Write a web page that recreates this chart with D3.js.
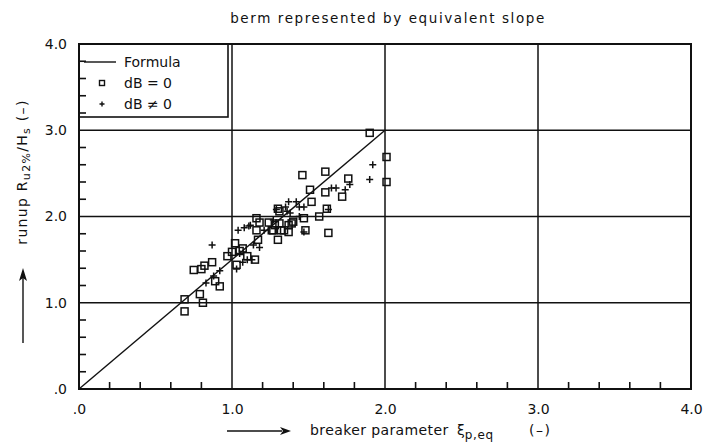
<!DOCTYPE html>
<html>
<head>
<meta charset="utf-8">
<script src="https://cdn.jsdelivr.net/npm/d3@7"></script>
<style>
  body { margin: 0; background: #fff; }
  text { font-family: "DejaVu Sans", sans-serif; fill: #111; }
</style>
</head>
<body>
<svg id="chart" width="704" height="442"></svg>
<script>
"use strict";

// Measured points dB = 0 (squares) : breaker parameter / runup
var sqXi = [0.69, 0.69, 0.79, 0.81, 0.75, 0.80, 0.82, 0.87, 0.89, 0.92,
            0.97, 1.02, 1.03, 1.00, 1.07, 1.10, 1.15, 1.17, 1.16, 1.18,
            1.24, 1.27, 1.30, 1.28, 1.46, 1.51, 1.31, 1.39, 1.37, 1.32,
            1.31, 1.48, 1.61, 1.76, 1.61, 1.72, 1.52, 1.62, 1.57, 1.63,
            1.47, 1.30, 1.90, 2.01, 2.01, 1.26, 1.16, 1.40, 1.37, 1.34, 1.05];
var sqRu = [1.04, 0.90, 1.10, 1.00, 1.38, 1.39, 1.43, 1.47, 1.25, 1.19,
            1.54, 1.69, 1.44, 1.59, 1.63, 1.54, 1.50, 1.73, 1.84, 1.93,
            1.93, 1.84, 1.73, 1.90, 2.48, 2.31, 1.92, 1.92, 1.82, 1.84,
            2.06, 1.84, 2.52, 2.44, 2.28, 2.23, 2.17, 2.09, 2.00, 1.81,
            1.98, 2.09, 2.97, 2.69, 2.40, 1.84, 1.98, 1.94, 1.90, 1.84, 1.60];

// Measured points dB != 0 (plus signs)
var plXi = [0.87, 0.83, 0.92, 0.88, 1.04, 1.08, 1.12, 1.03, 1.10, 1.13,
            1.14, 1.05, 1.37, 1.42, 1.44, 1.36, 1.29, 1.18, 1.65, 1.68,
            1.74, 1.77, 1.47, 1.11, 1.92, 1.90, 1.47, 1.27, 1.21, 1.44,
            1.35, 1.63, 1.07, 1.38];
var plRu = [1.67, 1.23, 1.37, 1.31, 1.84, 1.87, 1.90, 1.39, 1.50, 1.50,
            1.67, 1.57, 2.17, 2.17, 2.11, 2.06, 2.08, 1.64, 2.33, 2.33,
            2.31, 2.37, 2.11, 1.89, 2.60, 2.43, 1.82, 1.96, 1.84, 2.00,
            2.11, 2.08, 1.47, 2.04];

// Formula line Ru2%/Hs = 1.5 xi (up to xi = 2)
var formulaXi = [0.0, 2.0];
var formulaRu = [0.0, 3.0];

var majorTicks = [0, 1, 2, 3, 4];
var gridTicks = [1, 2, 3];
var minorTicks = [0.2, 0.4, 0.6, 0.8, 1.2, 1.4, 1.6, 1.8, 2.2, 2.4, 2.6, 2.8, 3.2, 3.4, 3.6, 3.8];

var svg = d3.select("#chart");
svg.append("rect").attr("width", 704).attr("height", 442).attr("fill", "#fff");

var x = d3.scaleLinear().domain([0, 4]).range([79, 691]);
var y = d3.scaleLinear().domain([0, 4]).range([389, 44]);

var ink = "#111";

// grid lines
svg.append("g").selectAll("line")
  .data(gridTicks).enter().append("line")
    .attr("x1", d => x(d)).attr("x2", d => x(d))
    .attr("y1", y(0)).attr("y2", y(4))
    .attr("stroke", ink).attr("stroke-width", 1.5);
svg.append("g").selectAll("line")
  .data(gridTicks).enter().append("line")
    .attr("x1", x(0)).attr("x2", x(4))
    .attr("y1", d => y(d)).attr("y2", d => y(d))
    .attr("stroke", ink).attr("stroke-width", 1.5);

// frame
svg.append("rect")
  .attr("x", x(0)).attr("y", y(4))
  .attr("width", x(4) - x(0)).attr("height", y(0) - y(4))
  .attr("fill", "none").attr("stroke", ink).attr("stroke-width", 2);

// minor ticks pointing inward
svg.append("g").attr("class", "minor-y").selectAll("line")
  .data(minorTicks).enter().append("line")
    .attr("x1", x(0)).attr("x2", x(0) + 7)
    .attr("y1", d => y(d)).attr("y2", d => y(d))
    .attr("stroke", ink).attr("stroke-width", 1.6);
svg.append("g").attr("class", "minor-x").selectAll("line")
  .data(minorTicks).enter().append("line")
    .attr("x1", d => x(d)).attr("x2", d => x(d))
    .attr("y1", y(0)).attr("y2", y(0) - 7)
    .attr("stroke", ink).attr("stroke-width", 1.6);

// tick labels
var fmt = d => d === 0 ? ".0" : d.toFixed(1);
var yLab = svg.append("g")
  .attr("transform", `translate(${x(0)},0)`)
  .call(d3.axisLeft(y).tickValues(majorTicks).tickSize(0).tickPadding(12).tickFormat(fmt));
var xLab = svg.append("g")
  .attr("transform", `translate(0,${y(0)})`)
  .call(d3.axisBottom(x).tickValues(majorTicks).tickSize(0).tickPadding(15).tickFormat(fmt));
[yLab, xLab].forEach(g => {
  g.select(".domain").remove();
  g.selectAll("text").attr("font-size", 14).attr("font-family", "DejaVu Sans").attr("fill", ink);
});

// formula line
svg.append("path")
  .datum(d3.zip(formulaXi, formulaRu))
  .attr("fill", "none").attr("stroke", ink).attr("stroke-width", 1.4)
  .attr("d", d3.line().x(d => x(d[0])).y(d => y(d[1])));

// squares
svg.append("g").selectAll("rect")
  .data(d3.zip(sqXi, sqRu)).enter().append("rect")
    .attr("x", d => x(d[0]) - 3.5).attr("y", d => y(d[1]) - 3.5)
    .attr("width", 7).attr("height", 7)
    .attr("fill", "none").attr("stroke", ink).attr("stroke-width", 1.5);

// plus signs
var plusPath = "M-3.5,0H3.5M0,-3.5V3.5";
svg.append("g").selectAll("path")
  .data(d3.zip(plXi, plRu)).enter().append("path")
    .attr("transform", d => `translate(${x(d[0])},${y(d[1])})`)
    .attr("d", plusPath)
    .attr("stroke", ink).attr("stroke-width", 1.5);

// legend box
var legend = svg.append("g");
legend.append("rect")
  .attr("x", x(0)).attr("y", y(4))
  .attr("width", 149).attr("height", 73)
  .attr("fill", "none").attr("stroke", ink).attr("stroke-width", 1.6);
legend.append("line")
  .attr("x1", 84).attr("x2", 116).attr("y1", 62).attr("y2", 62)
  .attr("stroke", ink).attr("stroke-width", 1.4);
legend.append("rect")
  .attr("x", 99.5).attr("y", 80.5).attr("width", 5).attr("height", 5)
  .attr("fill", "none").attr("stroke", ink).attr("stroke-width", 1.4);
legend.append("path")
  .attr("transform", "translate(102,104)")
  .attr("d", "M-2.5,0H2.5M0,-2.5V2.5")
  .attr("stroke", ink).attr("stroke-width", 1.4);
var legendText = ["Formula", "dB = 0", "dB \u2260 0"];
legend.selectAll("text")
  .data(legendText).enter().append("text")
    .attr("x", 124).attr("y", (d, i) => 67 + i * 21)
    .attr("font-size", 14)
    .text(d => d);

// title
svg.append("text")
  .attr("x", 388).attr("y", 23)
  .attr("text-anchor", "middle")
  .attr("font-size", 13.5)
  .attr("letter-spacing", 1.6)
  .text("berm represented by equivalent slope");

// x axis label with arrow
svg.append("line")
  .attr("x1", 227).attr("x2", 282).attr("y1", 431).attr("y2", 431)
  .attr("stroke", ink).attr("stroke-width", 1.4);
svg.append("path")
  .attr("d", "M280,427L291,431L280,435L283,431Z")
  .attr("fill", ink);
svg.append("text")
  .attr("x", 310).attr("y", 435)
  .attr("font-size", 14).attr("letter-spacing", 0.4)
  .text("breaker parameter");
var xi = svg.append("text")
  .attr("x", 457).attr("y", 435)
  .attr("font-size", 14);
xi.append("tspan").text("\u03be");
xi.append("tspan").attr("font-size", 12).attr("dy", 4).attr("letter-spacing", 0.6).text("p,eq");
svg.append("text")
  .attr("x", 529).attr("y", 435)
  .attr("font-size", 14).attr("letter-spacing", 1.5)
  .text("(\u2013)");

// y axis label with arrow
var yt = svg.append("text")
  .attr("transform", "translate(27,172) rotate(-90)")
  .attr("text-anchor", "middle")
  .attr("font-size", 14).attr("letter-spacing", 1.3);
yt.append("tspan").text("runup  R");
yt.append("tspan").attr("font-size", 11).attr("dy", 3).text("u2%");
yt.append("tspan").attr("dy", -3).text("/H");
yt.append("tspan").attr("font-size", 11).attr("dy", 3).text("s");
yt.append("tspan").attr("dy", -3).text("  (\u2013)");

svg.append("line")
  .attr("x1", 23).attr("x2", 23).attr("y1", 343).attr("y2", 278)
  .attr("stroke", ink).attr("stroke-width", 1.4);
svg.append("path")
  .attr("d", "M19,281L23,268L27,281L23,278Z")
  .attr("fill", ink);
</script>
</body>
</html>
